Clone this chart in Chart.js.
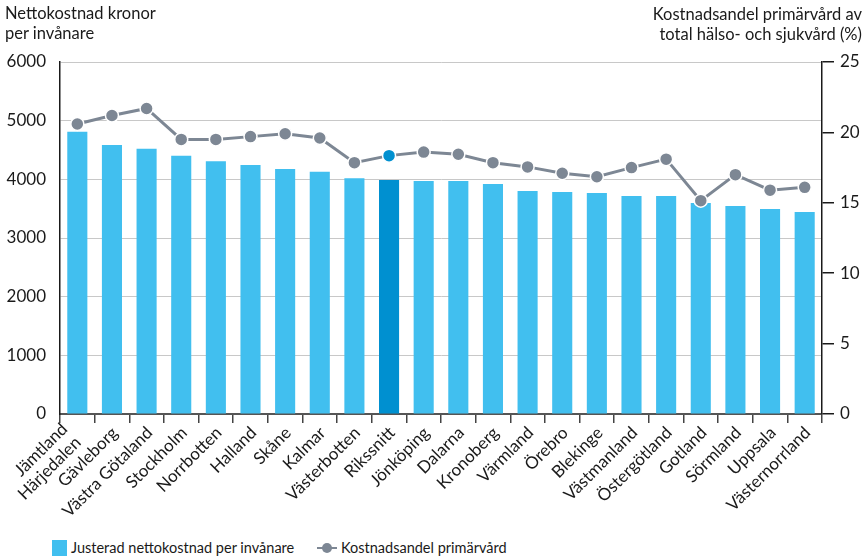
<!DOCTYPE html>
<html>
<head>
<meta charset="utf-8">
<script src="https://cdn.jsdelivr.net/npm/chart.js@4.4.0/dist/chart.umd.min.js"></script>
<style>
  html, body { margin: 0; padding: 0; background: #fff; }
  body { width: 868px; height: 559px; position: relative; overflow: hidden; font-family: Lato, sans-serif; color: #1a1a1a; }
  #wrap { position: absolute; left: 0; top: 0; width: 868px; height: 530px; }
  .title { position: absolute; font-size: 16.5px; line-height: 20px; }
  #titleLeft { left: 5px; top: 3px; }
  #titleRight { right: 6px; top: 4px; text-align: right; }
  #legend { position: absolute; left: 52px; top: 539px; font-size: 14.5px; display: flex; align-items: center; }
  .box { width: 15px; height: 16px; background: #41bfef; display: inline-block; margin-right: 4px; }
  .item { display: flex; align-items: center; }
  .item.first { width: 265px; }
  .lineSym { position: relative; width: 20px; height: 16px; margin-right: 4px; }
  .lineSym:before { content: ''; position: absolute; left: 0; width: 20px; top: 7px; height: 0; border-top: 2px dashed #7d8794; }
  .lineSym:after { content: ''; position: absolute; left: 5px; top: 3px; width: 10px; height: 10px; border-radius: 50%; background: #7d8794; }
</style>
</head>
<body>
<div id="wrap"><canvas id="chart"></canvas></div>
<div class="title" id="titleLeft">Nettokostnad kronor<br>per invånare</div>
<div class="title" id="titleRight">Kostnadsandel primärvård av<br>total hälso- och sjukvård (%)</div>
<div id="legend">
  <div class="item first"><span class="box"></span>Justerad nettokostnad per invånare</div>
  <div class="item"><span class="lineSym"></span>Kostnadsandel primärvård</div>
</div>
<script>
const regions = [['Jämtland', 'Härjedalen'], 'Gävleborg', 'Västra Götaland', 'Stockholm', 'Norrbotten',
  'Halland', 'Skåne', 'Kalmar', 'Västerbotten', 'Rikssnitt', 'Jönköping', 'Dalarna', 'Kronoberg',
  'Värmland', 'Örebro', 'Blekinge', 'Västmanland', 'Östergötland', 'Gotland', 'Sörmland', 'Uppsala',
  'Västernorrland'];

// Justerad nettokostnad per invånare (kr)
const costPerCapita = [4810, 4585, 4520, 4400, 4310, 4245, 4175, 4130, 4020, 3990, 3970, 3970,
  3920, 3800, 3785, 3765, 3715, 3715, 3595, 3545, 3495, 3445];

// Kostnadsandel primärvård (%)
const primaryShare = [20.6, 21.2, 21.7, 19.5, 19.5, 19.7, 19.9, 19.6, 17.85, 18.35, 18.6, 18.45,
  17.85, 17.55, 17.1, 16.85, 17.5, 18.1, 15.15, 17.0, 15.9, 16.1];

const leftTicks = [0, 1000, 2000, 3000, 4000, 5000, 6000];
const rightTicks = [0, 5, 10, 15, 20, 25];

const highlight = 'Rikssnitt';
const barColors = regions.map(r => r === highlight ? '#0090d0' : '#41bfef');
const pointColors = regions.map(r => r === highlight ? '#0090d0' : '#7d8794');

const tickFont = { family: 'Lato, sans-serif', size: 17 };

// rotated category labels; the two-line label is moved a bit left
const xLabelPlugin = {
  id: 'xLabels',
  afterDraw(chart) {
    const c = chart.ctx;
    const xs = chart.scales.x;
    const lh = 19;
    c.save();
    c.font = '17px Lato, sans-serif';
    c.fillStyle = '#1a1a1a';
    c.textAlign = 'right';
    c.textBaseline = 'middle';
    regions.forEach((lab, i) => {
      const lines = Array.isArray(lab) ? lab : [lab];
      const multi = lines.length > 1;
      c.save();
      c.translate(xs.getPixelForTick(i) + (multi ? -6 : 3), xs.top + (multi ? 19 : 16));
      c.rotate(-Math.PI / 4);
      lines.forEach((ln, j) => {
        c.fillText(ln, 0, (j - (lines.length - 1) / 2) * lh);
      });
      c.restore();
    });
    c.restore();
  }
};

const ctx = document.getElementById('chart').getContext('2d');
new Chart(ctx, {
  data: {
    labels: regions,
    datasets: [
      {
        type: 'line',
        label: 'Kostnadsandel primärvård',
        data: primaryShare,
        yAxisID: 'y1',
        borderColor: '#7d8794',
        borderWidth: 3,
        pointRadius: 6.5,
        pointBackgroundColor: pointColors,
        pointBorderColor: '#ffffff',
        pointBorderWidth: 1.5,
        tension: 0,
        order: 0
      },
      {
        type: 'bar',
        label: 'Justerad nettokostnad per invånare',
        data: costPerCapita,
        yAxisID: 'y',
        backgroundColor: barColors,
        categoryPercentage: 1,
        barPercentage: 0.58,
        order: 1
      }
    ]
  },
  options: {
    responsive: true,
    maintainAspectRatio: false,
    animation: false,
    layout: { padding: { top: 62, left: 0, right: 0, bottom: 0 } },
    plugins: {
      legend: { display: false },
      tooltip: { enabled: false }
    },
    scales: {
      x: {
        grid: { offset: true, drawOnChartArea: false, drawTicks: true, tickLength: 9, color: '#444', lineWidth: 1.5 },
        border: { color: '#555', width: 2 },
        ticks: { display: false },
        afterFit: s => { s.height = 116; }
      },
      y: {
        position: 'left',
        min: 0, max: 6000,
        afterBuildTicks: s => { s.ticks = leftTicks.map(v => ({ value: v })); },
        grid: { color: '#c8c8c8', lineWidth: 1, drawTicks: false },
        border: { color: '#1a1a1a', width: 1.5 },
        ticks: { color: '#1a1a1a', font: tickFont, padding: 14, callback: v => String(v) },
        afterFit: s => { s.width = 60; }
      },
      y1: {
        position: 'right',
        min: 0, max: 25,
        afterBuildTicks: s => { s.ticks = rightTicks.map(v => ({ value: v })); },
        grid: { drawOnChartArea: false, drawTicks: true, tickLength: 12, color: '#1a1a1a', lineWidth: 1.5 },
        border: { color: '#1a1a1a', width: 1.5 },
        ticks: { color: '#1a1a1a', font: tickFont, padding: 6, callback: v => String(v) },
        afterFit: s => { s.width = 46; }
      }
    }
  },
  plugins: [xLabelPlugin]
});
</script>
</body>
</html>
